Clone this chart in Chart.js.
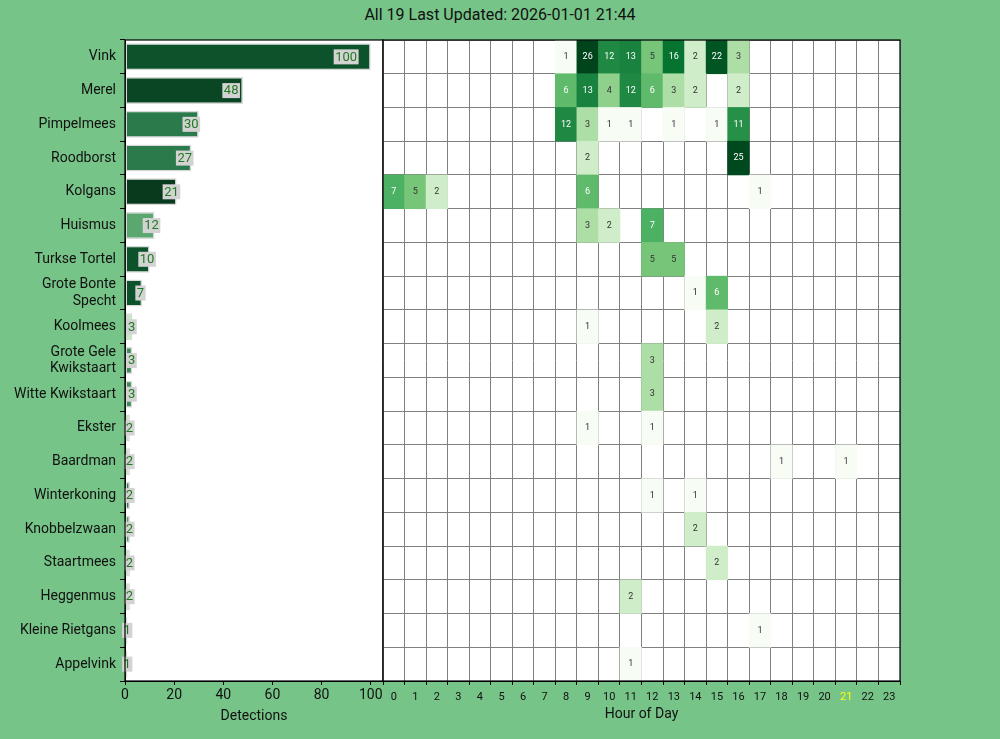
<!DOCTYPE html>
<html><head><meta charset="utf-8">
<script src="https://cdn.jsdelivr.net/npm/chart.js@4.4.1/dist/chart.umd.min.js"></script>
<style>
html,body{margin:0;padding:0;background:#76c487;}
#wrap{position:relative;width:1000px;height:739px;overflow:hidden;}
#title{position:absolute;left:0;top:5px;width:1000px;text-align:center;font:16px Roboto;color:#111;}
canvas{position:absolute;left:0;top:0;}
</style></head><body>
<div id="wrap">
<div id="title">All 19 Last Updated: 2026-01-01 21:44</div>
<canvas id="bars" width="1000" height="739"></canvas>
<canvas id="heat" width="1000" height="739"></canvas>
</div>
<script>
const species = ['Vink','Merel','Pimpelmees','Roodborst','Kolgans','Huismus','Turkse Tortel','Grote Bonte Specht','Koolmees','Grote Gele Kwikstaart','Witte Kwikstaart','Ekster','Baardman','Winterkoning','Knobbelzwaan','Staartmees','Heggenmus','Kleine Rietgans','Appelvink'];
const detections = [100,48,30,27,21,12,10,7,3,3,3,2,2,2,2,2,2,1,1];
const hours = ['0','1','2','3','4','5','6','7','8','9','10','11','12','13','14','15','16','17','18','19','20','21','22','23'];
const xTicks = [0,20,40,60,80,100];
//                   0 1 2 3 4 5 6 7 8  9 10 11 12 13 14 15 16 17 18 19 20 21 22 23
const hourlyCounts = [
  /* Vink */        [0,0,0,0,0,0,0,0,1,26,12,13, 5,16, 2,22, 3, 0, 0, 0, 0, 0, 0, 0],
  /* Merel */       [0,0,0,0,0,0,0,0,6,13, 4,12, 6, 3, 2, 0, 2, 0, 0, 0, 0, 0, 0, 0],
  /* Pimpelmees */  [0,0,0,0,0,0,0,0,12,3, 1, 1, 0, 1, 0, 1,11, 0, 0, 0, 0, 0, 0, 0],
  /* Roodborst */   [0,0,0,0,0,0,0,0,0, 2, 0, 0, 0, 0, 0, 0,25, 0, 0, 0, 0, 0, 0, 0],
  /* Kolgans */     [7,5,2,0,0,0,0,0,0, 6, 0, 0, 0, 0, 0, 0, 0, 1, 0, 0, 0, 0, 0, 0],
  /* Huismus */     [0,0,0,0,0,0,0,0,0, 3, 2, 0, 7, 0, 0, 0, 0, 0, 0, 0, 0, 0, 0, 0],
  /* Turkse T. */   [0,0,0,0,0,0,0,0,0, 0, 0, 0, 5, 5, 0, 0, 0, 0, 0, 0, 0, 0, 0, 0],
  /* Gr. Bonte S.*/ [0,0,0,0,0,0,0,0,0, 0, 0, 0, 0, 0, 1, 6, 0, 0, 0, 0, 0, 0, 0, 0],
  /* Koolmees */    [0,0,0,0,0,0,0,0,0, 1, 0, 0, 0, 0, 0, 2, 0, 0, 0, 0, 0, 0, 0, 0],
  /* Gr. Gele K. */ [0,0,0,0,0,0,0,0,0, 0, 0, 0, 3, 0, 0, 0, 0, 0, 0, 0, 0, 0, 0, 0],
  /* Witte K. */    [0,0,0,0,0,0,0,0,0, 0, 0, 0, 3, 0, 0, 0, 0, 0, 0, 0, 0, 0, 0, 0],
  /* Ekster */      [0,0,0,0,0,0,0,0,0, 1, 0, 0, 1, 0, 0, 0, 0, 0, 0, 0, 0, 0, 0, 0],
  /* Baardman */    [0,0,0,0,0,0,0,0,0, 0, 0, 0, 0, 0, 0, 0, 0, 0, 1, 0, 0, 1, 0, 0],
  /* Winterkoning */[0,0,0,0,0,0,0,0,0, 0, 0, 0, 1, 0, 1, 0, 0, 0, 0, 0, 0, 0, 0, 0],
  /* Knobbelzw. */  [0,0,0,0,0,0,0,0,0, 0, 0, 0, 0, 0, 2, 0, 0, 0, 0, 0, 0, 0, 0, 0],
  /* Staartmees */  [0,0,0,0,0,0,0,0,0, 0, 0, 0, 0, 0, 0, 2, 0, 0, 0, 0, 0, 0, 0, 0],
  /* Heggenmus */   [0,0,0,0,0,0,0,0,0, 0, 0, 2, 0, 0, 0, 0, 0, 0, 0, 0, 0, 0, 0, 0],
  /* Kl. Rietgans */[0,0,0,0,0,0,0,0,0, 0, 0, 0, 0, 0, 0, 0, 0, 1, 0, 0, 0, 0, 0, 0],
  /* Appelvink */   [0,0,0,0,0,0,0,0,0, 0, 0, 1, 0, 0, 0, 0, 0, 0, 0, 0, 0, 0, 0, 0]
];
const currentHour = '21';

// styles
const barColors = ['#0c532b','#0a4623','#2b7a4b','#2b7a4b','#083b1e','#5aa870','#0c532b','#0c532b','#c6e6c4','#3d8b58','#3d8b58','#c6e6c4','#c6e6c4','#2b7a4b','#4a9a62','#c6e6c4','#c6e6c4','#c6e6c4','#c6e6c4'];
const greens = ['#f7fcf5','#e5f5e0','#c7e9c0','#a1d99b','#74c476','#41ab5d','#238b45','#006d2c','#00441b'];
const FONT = 'Roboto';

function hex2rgb(h){return [1,3,5].map(i=>parseInt(h.substr(i,2),16));}
const maxCount = Math.max(...hourlyCounts.flat());
function normT(v){return Math.log(v)/Math.log(maxCount);}
function cellColor(v){
  if(!v) return 'rgba(0,0,0,0)';
  let t = Math.max(0, Math.min(1, normT(v)));
  const p = t*(greens.length-1), i = Math.min(greens.length-2, Math.floor(p)), f = p-i;
  const a = hex2rgb(greens[i]), b = hex2rgb(greens[i+1]);
  const c = a.map((x,k)=>Math.round(x+(b[k]-x)*f));
  return `rgb(${c[0]},${c[1]},${c[2]})`;
}
function wrapLabel(s){
  if(s.length>16 && s.includes(' ')){const k=s.lastIndexOf(' ');return [s.slice(0,k), s.slice(k+1)];}
  return s;
}
const yLabels = species.map(wrapLabel);

const cells = [];
hourlyCounts.forEach((row,r)=>row.forEach((v,h)=>{ if(v>0) cells.push({x:hours[h], y:[r, r+1], v}); }));

const plotBg = {
  id:'plotBg',
  beforeDraw(chart){
    const {ctx, chartArea:a} = chart;
    ctx.save(); ctx.fillStyle='#ffffff';
    ctx.fillRect(a.left, a.top, a.right-a.left, a.bottom-a.top);
    ctx.restore();
  }
};
const frame = {
  id:'frame',
  afterDraw(chart){
    const {ctx, chartArea:a} = chart;
    ctx.save(); ctx.strokeStyle='#000'; ctx.lineWidth=1.2;
    ctx.strokeRect(a.left, a.top, a.right-a.left, a.bottom-a.top);
    ctx.restore();
  }
};
const barLabels = {
  id:'barLabels',
  afterDatasetsDraw(chart){
    const {ctx} = chart; const meta = chart.getDatasetMeta(0); const xs = chart.scales.x;
    ctx.save(); ctx.font = `13px ${FONT}`; ctx.textAlign='center'; ctx.textBaseline='middle';
    meta.data.forEach((el,i)=>{
      const v = detections[i]; const txt = String(v);
      const cx = xs.getPixelForValue(v*0.9); const w = ctx.measureText(txt).width;
      ctx.fillStyle='#d3d3d3';
      ctx.fillRect(cx-w/2-1.5, el.y-7.5, w+3, 15);
      ctx.fillStyle='#1f7a1f';
      ctx.fillText(txt, cx, el.y+0.5);
    });
    ctx.restore();
  }
};
const cellLabels = {
  id:'cellLabels',
  afterDatasetsDraw(chart){
    const {ctx} = chart; const meta = chart.getDatasetMeta(0);
    ctx.save(); ctx.font = `9px ${FONT}`; ctx.textAlign='center'; ctx.textBaseline='middle';
    meta.data.forEach((el,i)=>{
      const v = cells[i].v;
      ctx.fillStyle = normT(v) > 0.5 ? '#ffffff' : '#333333';
      ctx.fillText(String(v), el.x, (el.y+el.base)/2);
    });
    ctx.restore();
  }
};

new Chart(document.getElementById('bars'), {
  type:'bar',
  data:{labels:yLabels, datasets:[{data:detections, backgroundColor:barColors, borderColor:'#d9d9d9', borderWidth:1.5, borderSkipped:false, barPercentage:0.8, categoryPercentage:1}]},
  options:{
    indexAxis:'y', responsive:false, animation:false, devicePixelRatio:1,
    layout:{padding:{left:0, top:40, right:617, bottom:0}},
    plugins:{legend:{display:false}, tooltip:{enabled:false}},
    scales:{
      y:{ grid:{drawOnChartArea:false, tickColor:'#000', tickLength:5}, border:{color:'#000'},
          ticks:{color:'#111', font:{family:FONT, size:14, lineHeight:1.15}, padding:4, autoSkip:false},
          afterFit(s){s.width=125;} },
      x:{ min:0, max:105,
          afterBuildTicks(s){ s.ticks = xTicks.map(v=>({value:v})); },
          ticks:{color:'#111', font:{family:FONT, size:14}, padding:2},
          grid:{drawOnChartArea:false, tickColor:'#000', tickLength:4}, border:{color:'#000'},
          title:{display:true, text:'Detections', color:'#111', font:{family:FONT, size:14}, padding:{top:0, bottom:14}},
          afterFit(s){s.height=58;} }
    }
  },
  plugins:[plotBg, frame, barLabels]
});

new Chart(document.getElementById('heat'), {
  type:'bar',
  data:{labels:hours, datasets:[{data:cells, backgroundColor:(c)=>cellColor(c.raw && c.raw.v), borderWidth:0, barPercentage:1, categoryPercentage:1}]},
  options:{
    responsive:false, animation:false, devicePixelRatio:1,
    layout:{padding:{left:383, top:40, right:100, bottom:0}},
    plugins:{legend:{display:false}, tooltip:{enabled:false}},
    scales:{
      x:{ type:'category', offset:true, z:1,
          grid:{offset:true, color:'#808080', tickColor:'#000', tickLength:4}, border:{color:'#000'},
          ticks:{color:(c)=> hours[c.index]===currentHour ? '#ffff00' : '#111', font:{family:FONT, size:11}, padding:6, autoSkip:false, maxRotation:0},
          title:{display:true, text:'Hour of Day', color:'#111', font:{family:FONT, size:14}, padding:{top:0, bottom:16}},
          afterFit(s){s.height=58;} },
      y:{ type:'linear', min:0, max:species.length, reverse:true, z:1,
          ticks:{stepSize:1, display:false}, grid:{color:'#808080', drawTicks:false}, border:{display:false},
          afterFit(s){s.width=0;} }
    }
  },
  plugins:[plotBg, frame, cellLabels]
});
</script>
</body></html>
